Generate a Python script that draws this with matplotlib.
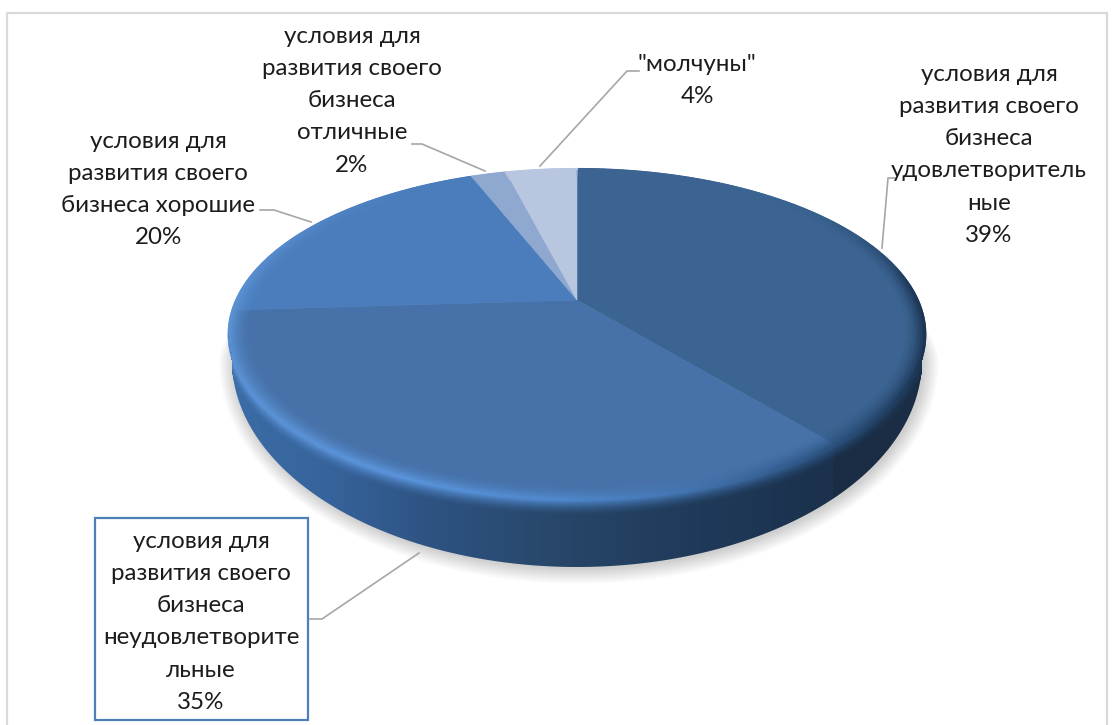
import numpy as np
import matplotlib
matplotlib.use("Agg")
import matplotlib.pyplot as plt
from matplotlib.colors import to_rgb
from matplotlib.collections import LineCollection
from matplotlib.patches import Polygon, Rectangle

# ---- data ----
values = [39, 35, 20, 2, 4]
categories = [
    "условия для\nразвития своего\nбизнеса\nудовлетворитель\nные",
    "условия для\nразвития своего\nбизнеса\nнеудовлетворите\nльные",
    "условия для\nразвития своего\nбизнеса хорошие",
    "условия для\nразвития своего\nбизнеса\nотличные",
    '"молчуны"',
]
colors = ["#3b6492", "#4672a9", "#4b7dbc", "#8fa8d0", "#b8c6e0"]
percent_labels = ["39%", "35%", "20%", "2%", "4%"]

# ---- layout (pixels) ----
W, H = 1112, 725
CX, CY, A, B, K = 577, 300, 340.5, 158, 0.208
BOT_YC, BOT_A, BOT_B = 360, 345, 207
label_pos = [(989, 74), (201, 541), (158, 141), (352, 36), (697, 64)]
line_gap = 32.3
leaders = [
    [(882, 248), (888, 178), (895, 178)],
    [(419, 553), (322, 619), (310, 619)],
    [(311, 222), (274, 210), (260, 210)],
    [(485, 171), (422, 144), (412, 144)],
    [(540, 166), (627, 71), (639, 71)],
]
FONT = ["Lato", "Open Sans"]
FS = 17.4
TXT = "#1c1c1c"

fig = plt.figure(figsize=(W / 100, H / 100), dpi=100)
ax = fig.add_axes([0, 0, 1, 1])
ax.set_axis_off()


def project(theta_deg, r=1.0, dy=0.0):
    t = np.radians(theta_deg)
    u, v = r * np.sin(t), r * np.cos(t)
    w = 1 + K * v
    return CX + A * u / w, CY - B * v / w + dy


# frame
ax.add_patch(Rectangle((6.5, 12.5), 1100, 720, fc="white", ec="#d9d9d9", lw=1.6, zorder=0))

cum = np.cumsum([0] + values) / sum(values) * 360.0
front_a = np.degrees(np.arccos(-K))
front_b = 360 - front_a
seam_x = project(cum[1])[0] - 2

# soft shadow: falls only below the disc
phi = np.radians(np.linspace(0, 360, 361))
for s in np.linspace(15, 0, 16):
    sy = np.where(np.cos(phi) > 0, BOT_B + s, 120.0)
    ax.fill(CX + 2 + (BOT_A + s) * np.sin(phi), BOT_YC + 2 + sy * np.cos(phi),
            fc="#000000", alpha=0.011, lw=0, zorder=1)

# side gradient
side_x = [229, 330, 430, 560, 700, 830, 930]
side_rgb = np.array([to_rgb(c) for c in ["#3c6da6", "#36639b", "#2e5382", "#274669", "#1f3a59", "#1b314d", "#1b314d"]])
side2 = np.array(to_rgb("#1a2d44"))


def side_color(x):
    x = np.asarray(x)
    c = np.stack([np.interp(x, side_x, side_rgb[:, i]) for i in range(3)], axis=-1)
    c[x > seam_x] = side2
    return c


grad_x = np.linspace(229, 930, 702)
grad = side_color(grad_x)[None, :, :]
t = np.linspace(front_a, front_b, 300)
xa, ya = project(t)
p2 = np.radians(np.linspace(-90, 90, 300))
xb, yb = CX + BOT_A * np.sin(p2), BOT_YC + BOT_B * np.cos(p2)
poly = Polygon(np.c_[np.r_[xa, xb], np.r_[ya, yb]], closed=True, fc="none", ec="none")
ax.add_patch(poly)
im = ax.imshow(grad, extent=[229, 930, 600, 300], aspect="auto", zorder=2, interpolation="bilinear")
im.set_clip_path(poly)

# top faces
for i in range(len(values)):
    t = np.linspace(cum[i], cum[i + 1], 200)
    x, y = project(t)
    ax.fill(np.r_[CX, x], np.r_[CY, y], fc=colors[i], ec=colors[i], lw=0.4, zorder=3)

# bevel
th = np.arange(0, 360.01, 0.5)
th_mid = (th[:-1] + th[1:]) / 2
hl_x = [229, 400, 560, 680, 800, 860, 930]
hl_rgb = np.array([to_rgb(c) for c in ["#5b92d4", "#5a93da", "#5088cc", "#4476b2", "#31598a", "#274a72", "#1b3350"]])


def highlight(x):
    return np.stack([np.interp(x, hl_x, hl_rgb[:, i]) for i in range(3)], axis=-1)


def wedge_color(theta):
    idx = np.clip(np.searchsorted(cum, theta) - 1, 0, len(values) - 1)
    return np.array([to_rgb(c) for c in colors])[idx]


def segs(x, y):
    p = np.c_[x, y]
    return np.stack([p[:-1], p[1:]], axis=1)


xm, _ = project(th_mid)
vm = np.cos(np.radians(th_mid))
strength = np.clip(1 - np.clip(vm, 0, 1) * 1.2, 0, 1)
strength = np.maximum(strength, np.clip((xm - 850) / 60, 0, 1))[:, None]
hl = highlight(xm)
base = wedge_color(th_mid)
for f in np.linspace(1, 0, 16):
    x, y = project(th, r=1 - 0.06 * f)
    a = (1 - f) ** 1.8 * strength
    col = base * (1 - a) + hl * a
    ax.add_collection(LineCollection(segs(x, y), colors=col, linewidths=1.8, zorder=4, capstyle="round"))
thf = th[(th >= front_a - 1) & (th <= front_b + 1)]
thfm = (thf[:-1] + thf[1:]) / 2
xfm, _ = project(thfm)
hlf = highlight(xfm)
sc = side_color(xfm)
for f in np.linspace(1, 0, 16):
    x, y = project(thf, dy=15 * f)
    a = (1 - f) ** 1.6
    col = sc * (1 - a) + hlf * a
    lc = LineCollection(segs(x, y), colors=col, linewidths=1.8, zorder=4, capstyle="round")
    ax.add_collection(lc)
    lc.set_clip_path(poly)

# leader lines
for pts in leaders:
    p = np.array(pts)
    ax.plot(p[:, 0], p[:, 1], color="#a6a6a6", lw=1.2, zorder=5, solid_joinstyle="miter")

# boxed label
ax.add_patch(Rectangle((95, 518), 213, 202, fc="white", ec="#4f7fb8", lw=1.6, zorder=6))

# labels
for cat, pct, (lx, ly) in zip(categories, percent_labels, label_pos):
    for j, line in enumerate((cat + "\n" + pct).split("\n")):
        ax.text(lx, ly + j * line_gap, line, ha="center", va="center", family=FONT,
                fontsize=FS, color=TXT, zorder=7)

ax.set_xlim(0, W)
ax.set_ylim(H, 0)
fig.savefig("out.png", dpi=100, facecolor="white")
